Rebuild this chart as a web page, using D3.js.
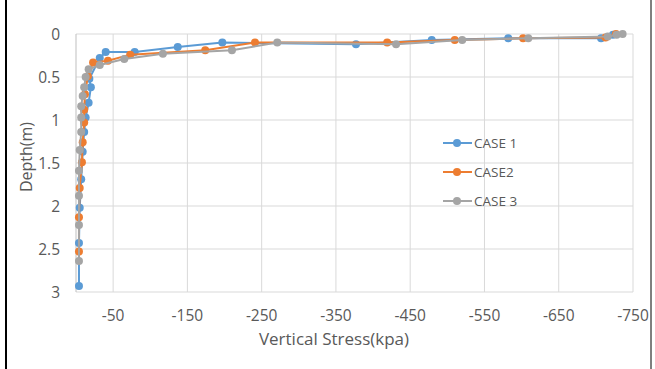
<!DOCTYPE html>
<html>
<head>
<meta charset="utf-8">
<script src="https://cdn.jsdelivr.net/npm/d3@7"></script>
<style>
  body { margin: 0; background: #fff; }
  text { font-family: "Open Sans", "Liberation Sans", sans-serif; fill: #595959; }
</style>
</head>
<body>
<div id="chart"></div>
<script>
// series data: [vertical stress (kpa), depth (m)]
const case1 = [[-723, 0.01], [-707, 0.05], [-582, 0.05], [-479, 0.07], [-377, 0.12], [-197, 0.10],
  [-137, 0.15], [-79, 0.21], [-40, 0.21], [-32, 0.28], [-18, 0.52], [-20, 0.62], [-17, 0.80],
  [-13, 0.97], [-11, 1.14], [-9, 1.37], [-7, 1.69], [-5, 2.02], [-4, 2.43], [-4, 2.93]];
const case2 = [[-727, 0.00], [-713, 0.04], [-602, 0.05], [-510, 0.07], [-419, 0.10], [-241, 0.10],
  [-174, 0.19], [-73, 0.24], [-43, 0.31], [-23, 0.33], [-16, 0.49], [-12, 0.70], [-11, 0.88],
  [-11, 1.03], [-9, 1.26], [-8, 1.49], [-5, 1.79], [-4, 2.13], [-4, 2.53]];
const case3 = [[-736, 0.00], [-728, 0.01], [-716, 0.03], [-609, 0.05], [-520, 0.07], [-431, 0.12],
  [-271, 0.10], [-210, 0.19], [-117, 0.23], [-65, 0.29], [-32, 0.36], [-17, 0.41], [-13, 0.50],
  [-11, 0.62], [-9, 0.72], [-7, 0.84], [-7, 0.97], [-7, 1.14], [-5, 1.35], [-4, 1.59],
  [-4, 1.88], [-4, 2.22], [-4, 2.64]];
const seriesNames = ["CASE 1", "CASE2", "CASE 3"];
const seriesColors = ["#5B9BD5", "#ED7D31", "#A5A5A5"];
const xTicks = [-50, -150, -250, -350, -450, -550, -650, -750];
const yTicks = [0, 0.5, 1, 1.5, 2, 2.5, 3];

const width = 655, height = 369;
const svg = d3.select("#chart").append("svg")
  .attr("width", width)
  .attr("height", height);

// chart frame
svg.append("line").attr("x1", 6).attr("x2", 6).attr("y1", 0).attr("y2", height)
  .attr("stroke", "#000").attr("stroke-width", 2);
svg.append("line").attr("x1", 651).attr("x2", 651).attr("y1", 0).attr("y2", height)
  .attr("stroke", "#000").attr("stroke-width", 1);

const x = d3.scaleLinear().domain([0, -750]).range([76, 633]);
const y = d3.scaleLinear().domain([0, 3]).range([34, 292]);

// gridlines
svg.append("g").selectAll("line").data(xTicks).enter().append("line")
  .attr("x1", d => x(d)).attr("x2", d => x(d))
  .attr("y1", y(0)).attr("y2", y(3))
  .attr("stroke", "#d9d9d9").attr("stroke-width", 1);
svg.append("g").selectAll("line").data(yTicks).enter().append("line")
  .attr("x1", x(0)).attr("x2", x(-750))
  .attr("y1", d => y(d)).attr("y2", d => y(d))
  .attr("stroke", "#d9d9d9").attr("stroke-width", 1);

// axis line on the left
svg.append("line").attr("x1", x(0)).attr("x2", x(0)).attr("y1", y(0)).attr("y2", y(3))
  .attr("stroke", "#bfbfbf").attr("stroke-width", 1);

// tick labels
svg.append("g").selectAll("text").data(xTicks).enter().append("text")
  .attr("x", d => x(d)).attr("y", 321)
  .attr("text-anchor", "middle")
  .style("font-size", "15.5px")
  .text(d => d);
svg.append("g").selectAll("text").data(yTicks).enter().append("text")
  .attr("x", 60).attr("y", d => y(d) + 5.5)
  .attr("text-anchor", "end")
  .style("font-size", "15.5px")
  .text(d => d);

// axis titles
svg.append("text")
  .attr("x", 334).attr("y", 345)
  .attr("text-anchor", "middle")
  .style("font-size", "17px")
  .text("Vertical Stress(kpa)");
svg.append("text")
  .attr("transform", `translate(32, 157) rotate(-90)`)
  .attr("text-anchor", "middle")
  .style("font-size", "16px")
  .text("Depth(m)");

// series
const line = d3.line().x(d => x(d[0])).y(d => y(d[1]));
[case1, case2, case3].forEach((data, i) => {
  const g = svg.append("g");
  g.append("path").datum(data)
    .attr("d", line)
    .attr("fill", "none")
    .attr("stroke", seriesColors[i])
    .attr("stroke-width", 2);
  g.selectAll("circle").data(data).enter().append("circle")
    .attr("cx", d => x(d[0])).attr("cy", d => y(d[1]))
    .attr("r", 4)
    .attr("fill", seriesColors[i]);
});

// legend
const legend = svg.append("g");
seriesNames.forEach((name, i) => {
  const ly = 143 + i * 29;
  legend.append("line").attr("x1", 443).attr("x2", 472).attr("y1", ly).attr("y2", ly)
    .attr("stroke", seriesColors[i]).attr("stroke-width", 2);
  legend.append("circle").attr("cx", 457).attr("cy", ly).attr("r", 4)
    .attr("fill", seriesColors[i]);
  legend.append("text").attr("x", 474).attr("y", ly + 5)
    .style("font-size", "13.5px")
    .text(name);
});
</script>
</body>
</html>
